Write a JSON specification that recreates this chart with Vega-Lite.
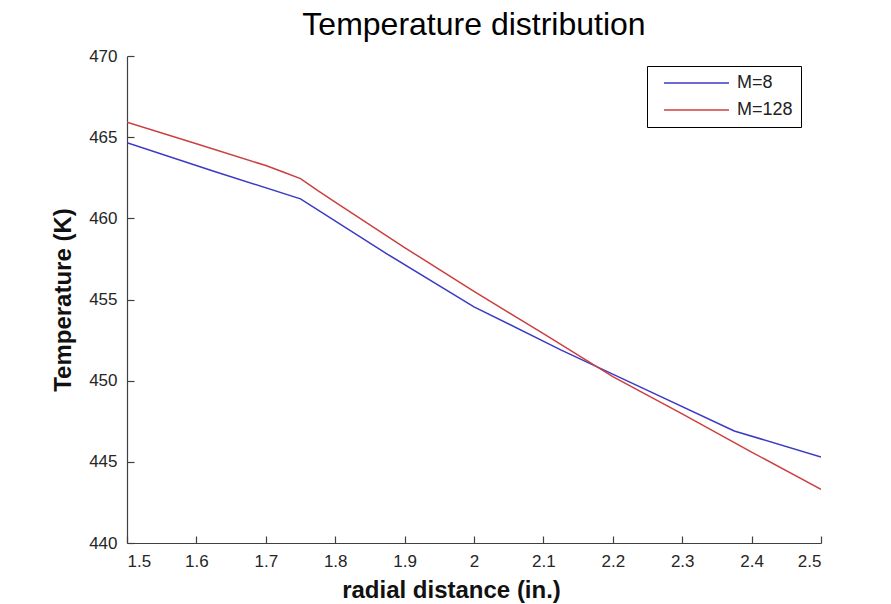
{
  "$schema": "https://vega.github.io/schema/vega-lite/v6.json",
  "autosize": "none",
  "width": 694,
  "height": 487,
  "padding": {"left": 127, "top": 56, "right": 70, "bottom": 61},
  "background": "white",
  "title": {
    "text": "Temperature distribution",
    "font": "Liberation Sans",
    "fontSize": 32,
    "fontWeight": "normal",
    "color": "black",
    "anchor": "middle",
    "offset": 5
  },
  "data": {
    "values": [
      {"x": 1.5, "T": 464.66, "series": "M=8"},
      {"x": 1.625, "T": 462.9, "series": "M=8"},
      {"x": 1.75, "T": 461.2, "series": "M=8"},
      {"x": 1.875, "T": 457.8, "series": "M=8"},
      {"x": 2.0, "T": 454.55, "series": "M=8"},
      {"x": 2.125, "T": 451.9, "series": "M=8"},
      {"x": 2.25, "T": 449.4, "series": "M=8"},
      {"x": 2.375, "T": 446.9, "series": "M=8"},
      {"x": 2.5, "T": 445.3, "series": "M=8"},
      {"x": 1.5, "T": 465.92, "series": "M=128"},
      {"x": 1.6, "T": 464.6, "series": "M=128"},
      {"x": 1.7, "T": 463.25, "series": "M=128"},
      {"x": 1.725, "T": 462.85, "series": "M=128"},
      {"x": 1.75, "T": 462.45, "series": "M=128"},
      {"x": 1.775, "T": 461.7, "series": "M=128"},
      {"x": 1.8, "T": 461.0, "series": "M=128"},
      {"x": 1.9, "T": 458.2, "series": "M=128"},
      {"x": 2.0, "T": 455.5, "series": "M=128"},
      {"x": 2.1, "T": 452.9, "series": "M=128"},
      {"x": 2.2, "T": 450.25, "series": "M=128"},
      {"x": 2.3, "T": 447.95, "series": "M=128"},
      {"x": 2.4, "T": 445.6, "series": "M=128"},
      {"x": 2.5, "T": 443.3, "series": "M=128"}
    ]
  },
  "mark": {"type": "line", "strokeWidth": 1.5, "clip": true},
  "encoding": {
    "x": {
      "field": "x",
      "type": "quantitative",
      "scale": {"domain": [1.5, 2.5], "nice": false, "zero": false},
      "axis": {
        "values": [1.5, 1.6, 1.7, 1.8, 1.9, 2.0, 2.1, 2.2, 2.3, 2.4, 2.5],
        "format": "~g",
        "title": "radial distance (in.)",
        "titleX": 324,
        "titleY": 54,
        "titleBaseline": "alphabetic",
        "labelPadding": 17
      }
    },
    "y": {
      "field": "T",
      "type": "quantitative",
      "scale": {"domain": [440, 470], "nice": false, "zero": false},
      "axis": {
        "values": [440, 445, 450, 455, 460, 465, 470],
        "title": "Temperature (K)",
        "titleX": -57,
        "titleY": 243.5,
        "titleAngle": -90,
        "titleBaseline": "alphabetic",
        "titleAlign": "center",
        "labelPadding": 17
      }
    },
    "color": {
      "field": "series",
      "type": "nominal",
      "scale": {"domain": ["M=8", "M=128"], "range": ["#3a3ac4", "#cc3f3f"]},
      "legend": {
        "title": null,
        "orient": "none",
        "legendX": 520,
        "legendY": 10,
        "symbolType": "M0,0H13",
        "symbolSize": 100,
        "symbolStrokeWidth": 1.5,
        "labelFont": "Liberation Sans",
        "labelFontSize": 18,
        "labelColor": "#222222",
        "labelOffset": 64,
        "rowPadding": 9,
        "padding": 8,
        "strokeColor": "black",
        "fillColor": "white"
      }
    }
  },
  "config": {
    "view": {"stroke": null},
    "axis": {
      "grid": false,
      "domainColor": "#404040",
      "domainWidth": 1.2,
      "tickColor": "#404040",
      "tickWidth": 1.2,
      "tickSize": -7,
      "labelFont": "Liberation Sans",
      "labelFontSize": 17,
      "labelColor": "#262626",
      "titleFont": "Liberation Sans",
      "titleFontSize": 24,
      "titleFontWeight": "bold",
      "titleColor": "#111111"
    }
  }
}
